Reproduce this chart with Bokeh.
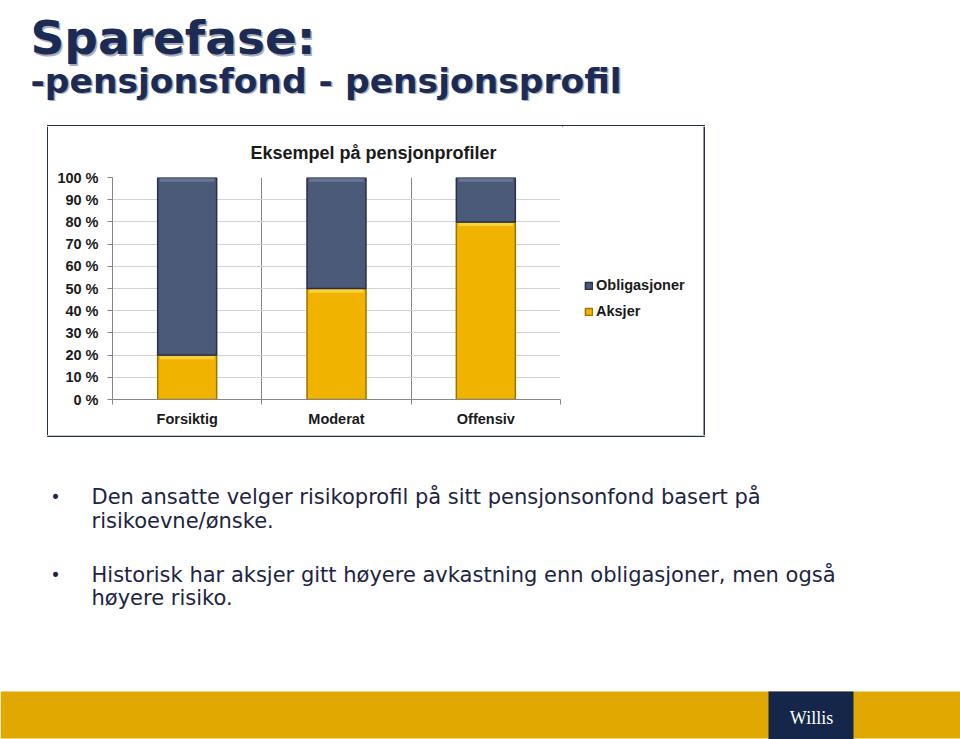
from bokeh.plotting import figure
from bokeh.layouts import column, row
from bokeh.models import (ColumnDataSource, Range1d, FixedTicker, Legend, LegendItem, Title)
from bokeh.core.properties import value
from bokeh.embed import file_html
from bokeh.resources import INLINE

# ---------------- data ----------------
categories = ["Forsiktig", "Moderat", "Offensiv"]
aksjer = [20, 50, 80]
obligasjoner = [80, 50, 20]
series_names = ["Aksjer", "Obligasjoner"]
y_ticks = [0, 10, 20, 30, 40, 50, 60, 70, 80, 90, 100]
y_tick_labels = ["0 %", "10 %", "20 %", "30 %", "40 %", "50 %", "60 %", "70 %", "80 %", "90 %", "100 %"]

chart_title = "Eksempel på pensjonprofiler"
slide_title = "Sparefase:"
slide_subtitle = "-pensjonsfond - pensjonsprofil"
bullet_lines = [
    ["Den ansatte velger risikoprofil på sitt pensjonsonfond basert på", "risikoevne/ønske."],
    ["Historisk har aksjer gitt høyere avkastning enn obligasjoner, men også", "høyere risiko."],
]
logo_text = "Willis"

# ---------------- styles / page geometry ----------------
W, H = 960, 739
BOX_L, BOX_R, BOX_T, BOX_B = 48, 703, 126, 435   # chart box (page px)
FL, FR, FT, FB = 112, 560, 176, 399              # plot area (page px)
SPLIT = FR + 2                                   # chart figure / legend strip split
NAVY, NAVY_EDGE, NAVY_HI = "#4b5a78", "#27304a", "#6e7c99"
GOLD, GOLD_EDGE, GOLD_HI = "#f0b400", "#9c7400", "#ffd84d"
AX = "#868686"
GRID = "#d2d2d2"
TXT = "#1a1a1a"
BOX_LINE = "#24304a"
TITLE_NAVY = "#1c2b54"
BODY = "#1c2444"
FOOT_GOLD = "#e0a800"
FOOT_NAVY = "#14264a"
SANS = "Liberation Sans"


def blank(width, height, x0, y0):
    """A figure whose frame is the whole canvas; data units = page pixels."""
    f = figure(width=width, height=height,
               x_range=Range1d(x0, x0 + width), y_range=Range1d(y0 + height, y0),
               output_backend="svg", toolbar_location=None,
               x_axis_location=None, y_axis_location=None, min_border=0,
               outline_line_color=None, background_fill_color="white",
               border_fill_color="white", frame_align=False)
    f.grid.visible = False
    return f


# ---------------- top: slide title ----------------
top = blank(W, BOX_T, 0, 0)
for dx, col in ((1.5, "#a7adba"), (0, TITLE_NAVY)):
    top.text(x=[30 + dx], y=[37 + dx], text=[slide_title], text_font=value("DejaVu Sans"),
             text_font_style="bold", text_font_size="47px", text_color=col,
             text_baseline="alphabetic")
    top.text(x=[30 + dx], y=[80 + dx], text=[slide_subtitle], text_font=value("DejaVu Sans"),
             text_font_style="bold", text_font_size="34.5px", text_color=col,
             text_baseline="alphabetic")
top.quad(left=[BOX_L - 1.5], right=[BOX_R + 1.5], top=[BOX_T - 1.5], bottom=[BOX_T],
         fill_color=BOX_LINE, line_color=None)

# ---------------- middle: chart ----------------
mid_h = BOX_B - BOX_T
left = blank(BOX_L, mid_h, 0, BOX_T)
left.quad(left=[BOX_L - 1.5], right=[BOX_L], top=[BOX_T], bottom=[BOX_B],
          fill_color=BOX_LINE, line_color=None)

n = len(categories)
centers = [i + 0.5 for i in range(n)]
boundaries = list(range(n + 1))

p = figure(width=SPLIT - BOX_L, height=mid_h,
           x_range=Range1d(0, n), y_range=Range1d(0, 100),
           output_backend="svg", toolbar_location=None,
           min_border_left=FL - BOX_L, min_border_right=SPLIT - FR,
           min_border_top=FT - BOX_T, min_border_bottom=BOX_B - FB,
           background_fill_color="white", border_fill_color="white",
           outline_line_color=None, frame_align=False)
p.add_layout(Title(text=chart_title, align="left", offset=250 - FL, standoff=29,
                   text_font=SANS, text_font_style="bold", text_font_size="18px",
                   text_color=TXT), "above")

p.ygrid.ticker = FixedTicker(ticks=y_ticks)
p.ygrid.grid_line_color = GRID
p.xgrid.ticker = FixedTicker(ticks=boundaries)
p.xgrid.grid_line_color = AX

ya = p.yaxis[0]
ya.ticker = FixedTicker(ticks=y_ticks)
ya.major_label_overrides = {t: l for t, l in zip(y_ticks, y_tick_labels)}
ya.axis_line_color = AX
ya.major_tick_line_color = AX
ya.major_tick_out = 5
ya.major_tick_in = 0
ya.minor_tick_line_color = None
ya.major_label_standoff = 9
ya.major_label_text_font = SANS
ya.major_label_text_font_style = "bold"
ya.major_label_text_font_size = "14.5px"
ya.major_label_text_color = TXT

xa = p.xaxis[0]
xa.ticker = FixedTicker(ticks=centers, minor_ticks=boundaries)
xa.major_label_overrides = {c: cat for c, cat in zip(centers, categories)}
xa.axis_line_color = AX
xa.major_tick_line_color = None
xa.major_tick_out = 0
xa.major_tick_in = 0
xa.minor_tick_line_color = AX
xa.minor_tick_out = 5
xa.minor_tick_in = 0
xa.major_label_standoff = 6
xa.major_label_text_font = SANS
xa.major_label_text_font_style = "bold"
xa.major_label_text_font_size = "14.5px"
xa.major_label_text_color = TXT

BAR_W = 0.395
src = ColumnDataSource(dict(x=centers, cat=categories, Aksjer=aksjer, Obligasjoner=obligasjoner))
rs = p.vbar_stack(series_names, x="x", width=BAR_W, source=src,
                  fill_color=[GOLD, NAVY], line_color=[GOLD_EDGE, NAVY_EDGE], line_width=1.5)

# bevel highlight at the top of each stacked segment
tops_a = list(aksjer)
tops_o = [a + o for a, o in zip(aksjer, obligasjoner)]
for tops, hi in ((tops_a, GOLD_HI), (tops_o, NAVY_HI)):
    p.vbar(x=centers, width=BAR_W - 0.03, top=[t - 0.5 for t in tops],
           bottom=[t - 1.9 for t in tops], fill_color=hi, fill_alpha=0.8, line_color=None)

# ---------------- legend strip (right of plot area) ----------------
right = blank(W - SPLIT, mid_h, SPLIT, BOX_T)
right.quad(left=[BOX_R], right=[BOX_R + 1.5], top=[BOX_T], bottom=[BOX_B],
           fill_color=BOX_LINE, line_color=None)
# legend keys: same styling as the bars, one off-canvas sample each
key_src = ColumnDataSource(dict(x=[-100], top=[-100]))
key_o = right.vbar(x="x", top="top", width=1, source=key_src,
                   fill_color=NAVY, line_color=NAVY_EDGE, line_width=1.5)
key_a = right.vbar(x="x", top="top", width=1, source=key_src,
                   fill_color=GOLD, line_color=GOLD_EDGE, line_width=1.5)
legend = Legend(items=[LegendItem(label=series_names[1], renderers=[key_o]),
                       LegendItem(label=series_names[0], renderers=[key_a])],
                location=(584 - SPLIT, BOX_B - 320), orientation="vertical",
                border_line_color=None, background_fill_alpha=0,
                padding=0, margin=0, spacing=8, label_height=18,
                glyph_height=9, glyph_width=9, label_standoff=3,
                label_text_font=SANS, label_text_font_style="bold",
                label_text_font_size="14.5px", label_text_color=TXT)
right.add_layout(legend)

# ---------------- bottom: bullets and footer ----------------
bot = blank(W, H - BOX_B, 0, BOX_B)
bot.quad(left=[BOX_L - 1.5], right=[BOX_R + 1.5], top=[BOX_B], bottom=[BOX_B + 1.5],
         fill_color=BOX_LINE, line_color=None)
baselines = [[496.7, 520.7], [574, 597.7]]
for lines, ys in zip(bullet_lines, baselines):
    bot.text(x=[50], y=[ys[0]], text=["•"], text_font=value("DejaVu Sans"),
             text_font_size="17px", text_color=BODY, text_baseline="alphabetic")
    bot.text(x=[91] * len(lines), y=ys, text=lines, text_font=value("DejaVu Sans"),
             text_font_size="21px", text_color=BODY, text_baseline="alphabetic")
bot.quad(left=[0], right=[W], top=[691], bottom=[738], fill_color=FOOT_GOLD, line_color=None)
bot.quad(left=[768], right=[853], top=[691], bottom=[H], fill_color=FOOT_NAVY, line_color=None)
bot.text(x=[811], y=[717], text=[logo_text], text_font=value("Liberation Serif"),
         text_font_size="18px", text_color="white", text_align="center",
         text_baseline="alphabetic")

page = column(top, row(left, p, right, spacing=0), bot, spacing=0)
open("out.html", "w").write(file_html(page, INLINE))
